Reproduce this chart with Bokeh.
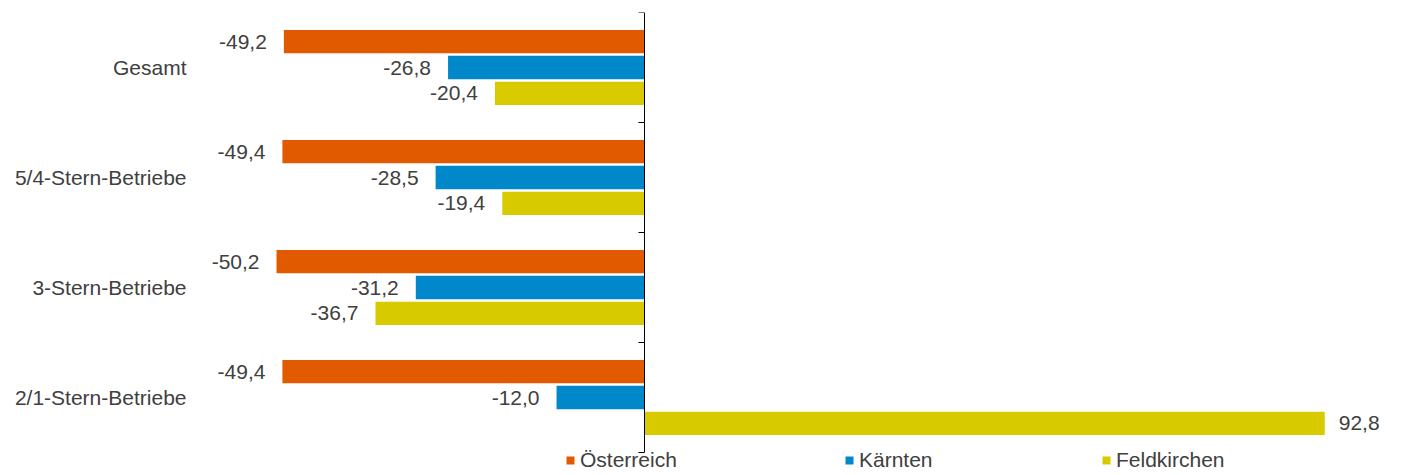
import numpy as np
from bokeh.plotting import figure
from bokeh.models import ColumnDataSource, Range1d, FixedTicker, Legend, LegendItem
from bokeh.core.properties import value
from bokeh.embed import file_html
from bokeh.resources import INLINE

categories = ["Gesamt", "5/4-Stern-Betriebe", "3-Stern-Betriebe", "2/1-Stern-Betriebe"]
series_names = ["Österreich", "Kärnten", "Feldkirchen"]
oesterreich = [-49.2, -49.4, -50.2, -49.4]
kaernten = [-26.8, -28.5, -31.2, -12.0]
feldkirchen = [-20.4, -19.4, -36.7, 92.8]
colors = ["#E25A00", "#0088CB", "#D7CB00"]

FONT = "Liberation Sans"
TXT = "#404040"
FS = "21px"
n = len(categories)
centers = [n - i - 0.5 for i in range(n)]

p = figure(width=1395, height=472, output_backend="svg", toolbar_location=None,
           x_range=Range1d(-61.39, 101.77), y_range=Range1d(-0.1818, n))
p.min_border_left = 194
p.min_border_right = 5
p.min_border_top = 12
p.min_border_bottom = 0
p.outline_line_color = None
p.xgrid.visible = False
p.ygrid.visible = False
p.xaxis.visible = False
p.background_fill_color = "white"
p.border_fill_color = "white"

yax = p.yaxis[0]
yax.ticker = FixedTicker(ticks=centers)
yax.major_label_overrides = {c: lab for c, lab in zip(centers, categories)}
yax.axis_line_color = None
yax.major_tick_line_color = None
yax.minor_tick_line_color = None
yax.major_tick_out = 0
yax.major_tick_in = 0
yax.major_label_standoff = 8
yax.major_label_text_font = FONT
yax.major_label_text_font_size = FS
yax.major_label_text_color = TXT

offsets = [0.235, 0.0, -0.235]
bar_h = 0.212
renderers = []
for vals, off, col in zip([oesterreich, kaernten, feldkirchen], offsets, colors):
    ys = [c + off for c in centers]
    src = ColumnDataSource(dict(
        y=ys, right=vals,
        label=[f"{v:.1f}".replace(".", ",") for v in vals],
        align=["right" if v < 0 else "left" for v in vals],
        xoff=[-17 if v < 0 else 14 for v in vals],
    ))
    r = p.hbar(y="y", left=0, right="right", height=bar_h, source=src,
               fill_color=col, line_color=None)
    renderers.append(r)
    p.text(x="right", y="y", text="label", source=src, text_align="align",
           x_offset="xoff", text_baseline="middle", text_font=value(FONT),
           text_font_size=FS, text_color=TXT)

# zero axis with ticks at category boundaries
p.segment(x0=0, y0=0, x1=0, y1=n, line_color="black", line_width=1)
p.ray(x=0, y=list(range(n + 1)), length=6, angle=np.pi, length_units="screen",
      line_color="black", line_width=1)

legend_x = [371, 650, 907]
for nm, r, lx in zip(series_names, renderers, legend_x):
    lg = Legend(items=[LegendItem(label=nm, renderers=[r])],
                orientation="horizontal", location=(lx, 0),
                glyph_width=10, glyph_height=10, label_standoff=5,
                padding=0, margin=0, border_line_color=None, background_fill_alpha=0,
                label_text_font=FONT, label_text_font_size=FS, label_text_color=TXT)
    p.add_layout(lg)

open("out.html", "w").write(file_html(p, INLINE))
